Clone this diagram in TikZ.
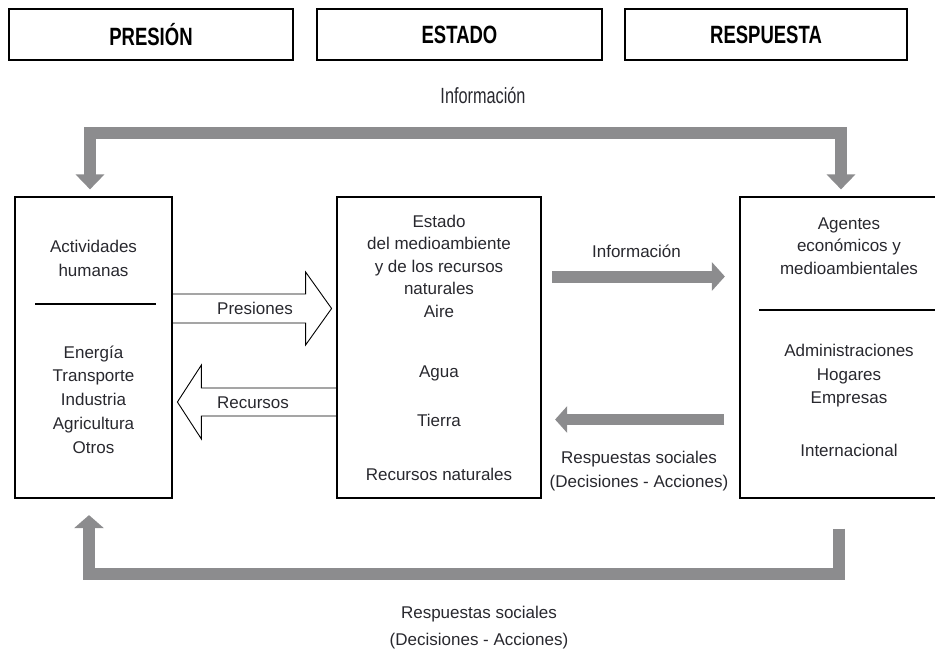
\documentclass[tikz,border=0pt]{standalone}
\usepackage{fontspec}
\setmainfont{Liberation Sans}
\newfontfamily\headfont[FakeStretch=0.74]{Liberation Sans}
\usetikzlibrary{arrows.meta}
\definecolor{flowgray}{RGB}{140,140,142}
\definecolor{inkgray}{RGB}{40,40,46}

\begin{document}
\begin{tikzpicture}[x = 1pt, y = -1pt,
    head/.style = {draw, line width = 1.4pt, minimum height = 51pt, inner sep = 0pt,
        font = \headfont\bfseries\fontsize{25}{28}\selectfont},
    panel/.style = {draw, line width = 1.2pt, minimum height = 301pt, inner sep = 0pt},
    txt/.style = {align = center, text = inkgray, inner sep = 0pt, font = \fontsize{17}{23.5}\selectfont},
    flow/.style = {draw = flowgray, line width = 12pt},
    hollow/.style = {draw, line width = .9pt, line join = miter}]
    \useasboundingbox (0,0) rectangle (935,651);

    % column headings
    \node[head, minimum width = 284pt] (hpres) at (151,34.5) {PRESIÓN};
    \node[head, minimum width = 285pt] (hest) at (459.5,34.5) {ESTADO};
    \node[head, minimum width = 282pt] (hresp) at (766,34.5) {RESPUESTA};

    % the three panels
    \node[panel, minimum width = 157pt] (pres) at (93.5,347.5) {};
    \node[panel, minimum width = 204pt] (est) at (439,347.5) {};
    \node[panel, minimum width = 197pt] (resp) at (838.5,347.5) {};

    \node[txt] (presA) at (93.5,258.5) {Actividades\\humanas};
    \draw[line width = 1.1pt] (35,304) -- (156,304);
    \node[txt, font = \fontsize{17}{23.75}\selectfont] (presB) at (93.5,399.5) {Energía\\Transporte\\Industria\\Agricultura\\Otros};

    \node[txt, font = \fontsize{17}{22.5}\selectfont] (estA) at (439,266) {Estado\\del medioambiente\\y de los recursos\\naturales\\Aire};
    \node[txt] (agua) at (439,373) {Agua};
    \node[txt] (tierra) at (439,420) {Tierra};
    \node[txt] (recnat) at (439,474) {Recursos naturales};

    \node[txt, font = \fontsize{17}{22.5}\selectfont] (respA) at (849,246) {Agentes\\económicos y\\medioambientales};
    \draw[line width = 1.1pt] (759,310) -- (937,310);
    \node[txt] (respB) at (849,376) {Administraciones\\Hogares\\Empresas};
    \node[txt] (intl) at (849,450) {Internacional};

    % outer loops
    \draw[flow, {Triangle[width = 28pt, length = 15pt]}-{Triangle[width = 28pt, length = 15pt]}]
        ([xshift = -3.5pt, yshift = 7pt]pres.north) |- (465,132.5) -| ([xshift = 2.5pt, yshift = 7pt]resp.north);
    \node[txt, font = \headfont\fontsize{22}{24}\selectfont] (infotop) at (483,96) {Información};

    \draw[flow, -{Triangle[width = 29pt, length = 13pt]}]
        ([yshift = -30pt]resp.south) |- (465,574) -| ([xshift = -4.5pt, yshift = -16.5pt]pres.south);
    \node[txt, font = \fontsize{17}{27}\selectfont] (respbot) at (479,627.5) {Respuestas sociales\\(Decisiones - Acciones)};

    % inner arrows
    \draw[flow, -{Triangle[width = 28pt, length = 13pt]}]
        ([xshift = 10.5pt, yshift = 71pt]est.east) -- ([xshift = -14.5pt, yshift = 71pt]resp.west);
    \node[txt] (infomid) at (636.5,251) {Información};

    \draw[flow, line width = 11pt, -{Triangle[width = 26pt, length = 12pt]}]
        ([xshift = -15pt, yshift = -72pt]resp.west) -- ([xshift = 13.5pt, yshift = -72pt]est.east);
    \node[txt, font = \fontsize{17}{24}\selectfont] (respmid) at (639,471) {Respuestas sociales\\(Decisiones - Acciones)};

    \draw[hollow] ([yshift = 53.5pt]pres.east) -- ++(133,0) -- ++(0,-22) -- ++(26,36.5)
        -- ++(-26,36.5) -- ++(0,-22) -- ++(-133,0);
    \node[txt] (presiones) at (255,308.5) {Presiones};

    \draw[hollow] ([yshift = -40.5pt]est.west) -- ++(-135,0) -- ++(0,-23) -- ++(-24,37)
        -- ++(24,37) -- ++(0,-23) -- ++(135,0);
    \node[txt] (recursos) at (253,403) {Recursos};
\end{tikzpicture}
\end{document}
